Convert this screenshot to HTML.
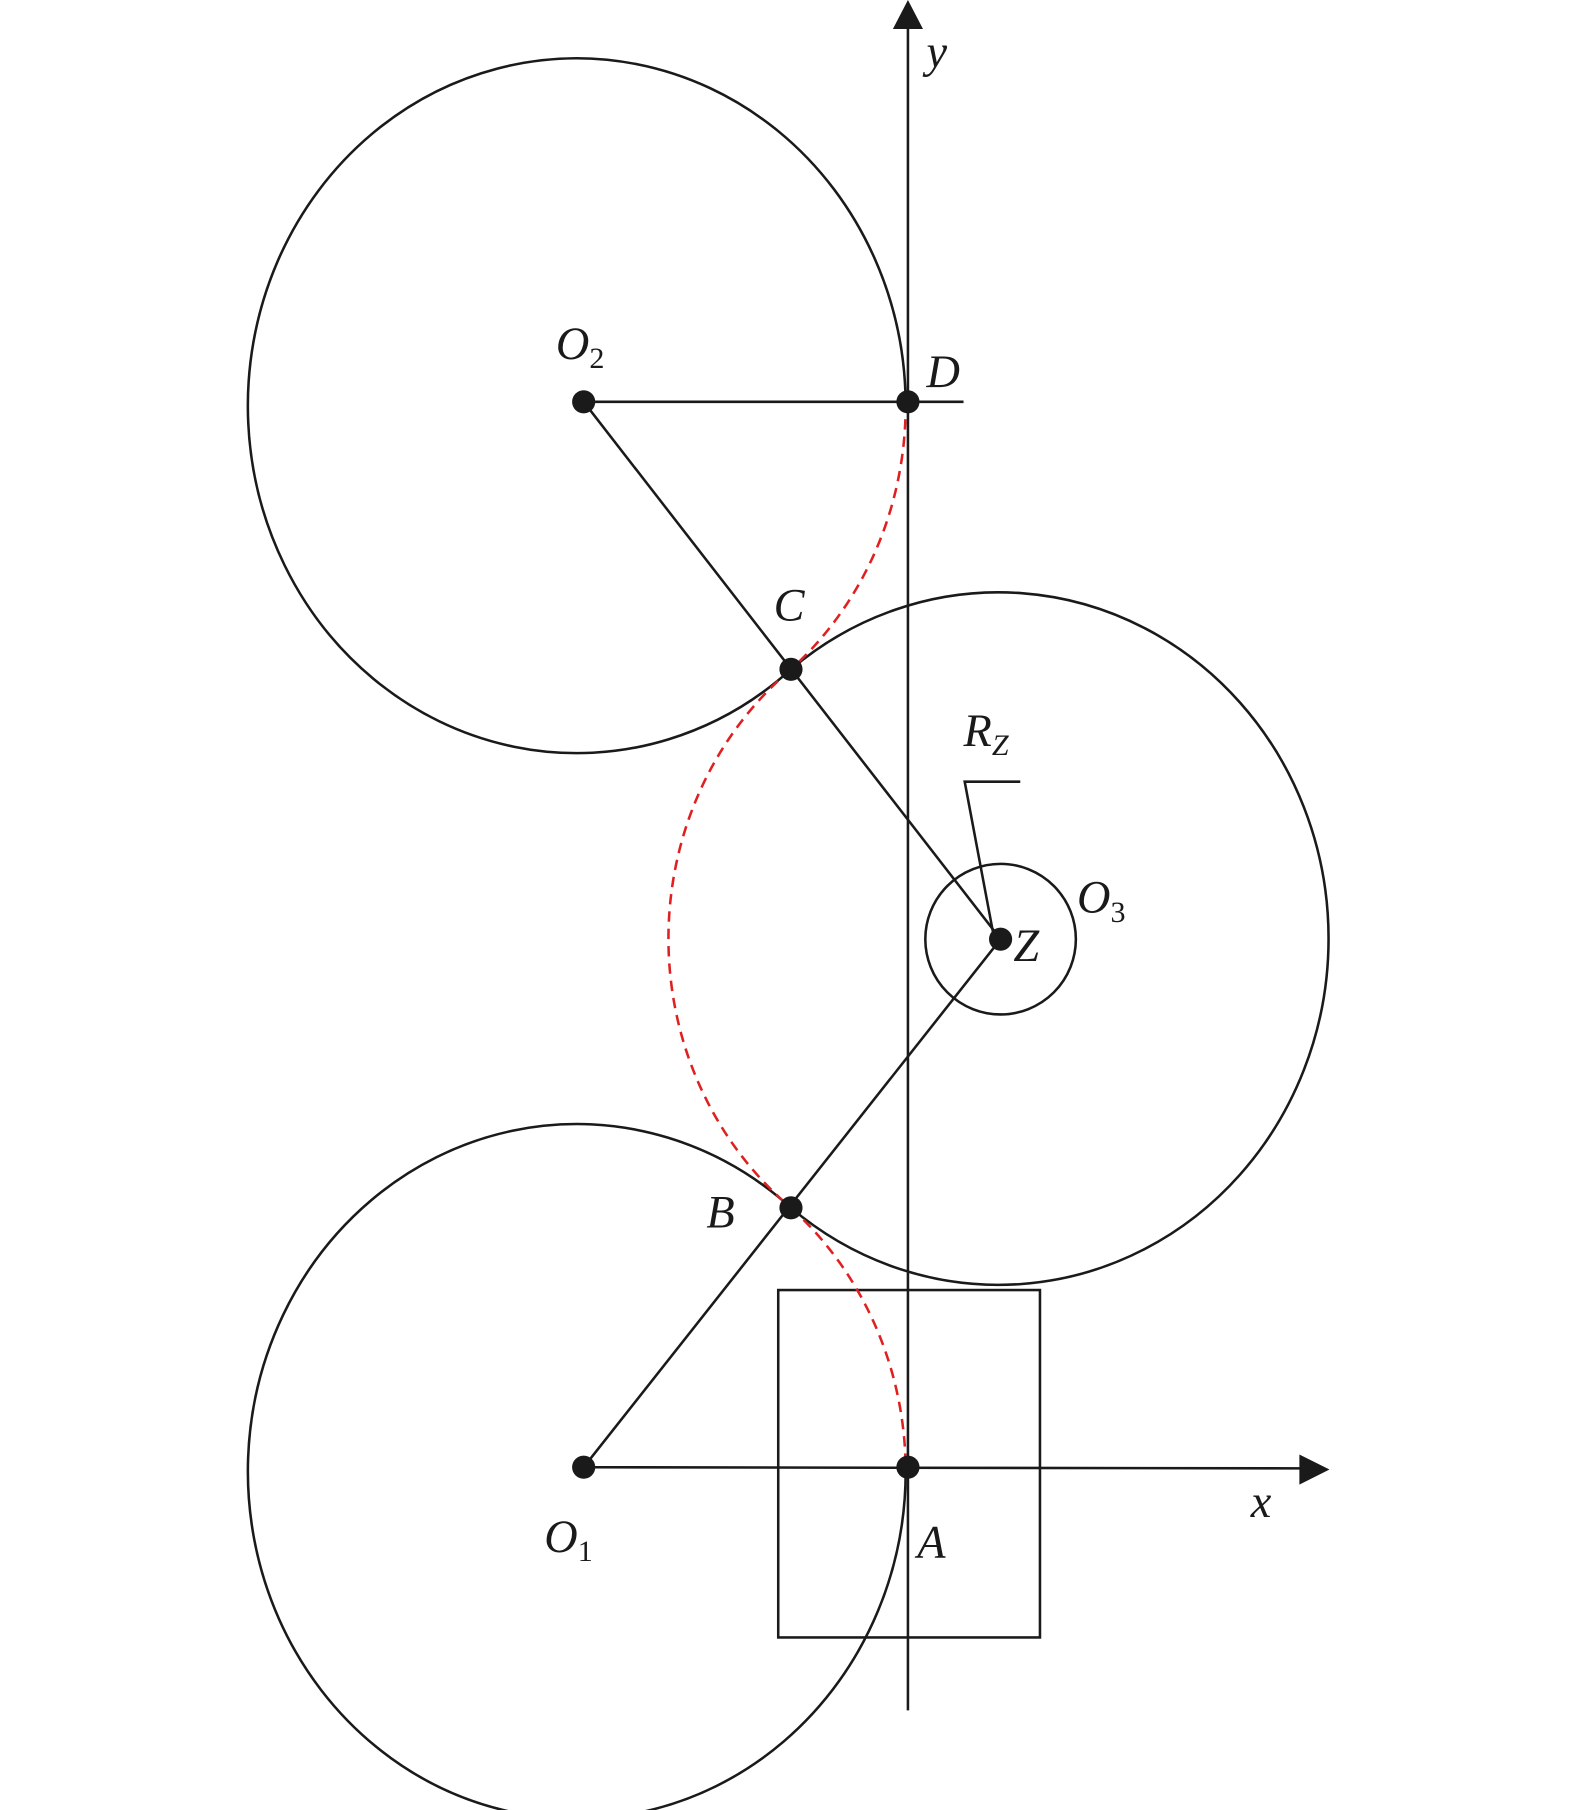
<!DOCTYPE html>
<html><head><meta charset="utf-8"><style>html,body{margin:0;padding:0;background:#fff}svg{display:block}</style></head>
<body>
<svg width="1575" height="1810" viewBox="0 0 1360 1563" preserveAspectRatio="none" xmlns="http://www.w3.org/2000/svg">
<g fill="none" stroke="#1a1a1a" stroke-width="2.2">
<line x1="784" y1="1477" x2="784" y2="22"/>
<line x1="505" y1="1267" x2="1125" y2="1268"/>
<path d="M782 347 A284 300 0 1 0 683 578"/>
<path d="M683 1043 A284 300 0 1 0 782 1266"/>
<path d="M683 578 A285 299 0 1 1 683 1043"/>
<circle cx="864" cy="811" r="65"/>
<line x1="504" y1="347" x2="832" y2="347"/>
<line x1="504" y1="347" x2="864" y2="811"/>
<line x1="504" y1="1267" x2="864" y2="811"/>
<polyline points="858,808 833,675 881,675"/>
<rect x="672" y="1114" width="226" height="300"/>
</g>
<g fill="none" stroke="#e02020" stroke-width="2.2" stroke-dasharray="9,6">
<path d="M782 347 A284 300 0 0 1 683 578"/>
<path d="M683 578 A285 299 0 0 0 683 1043"/>
<path d="M683 1043 A284 300 0 0 1 782 1266"/>
</g>
<g fill="#1a1a1a">
<polygon points="784,0 771,25 797,25"/>
<polygon points="1148,1269 1122,1256 1122,1282"/>
<circle cx="504" cy="347" r="10"/><circle cx="784" cy="347" r="10"/>
<circle cx="683" cy="578" r="10"/><circle cx="864" cy="811" r="10"/>
<circle cx="683" cy="1043" r="10"/><circle cx="504" cy="1267" r="10"/>
<circle cx="784" cy="1267" r="10"/>
</g>
<g font-family="Liberation Serif, serif" font-style="italic" font-size="40" fill="#1a1a1a">
<text x="800" y="58">y</text>
<text x="480" y="310">O<tspan font-style="normal" font-size="26" dy="8">2</tspan></text>
<text x="800" y="334">D</text>
<text x="668" y="536">C</text>
<text x="832" y="644">R<tspan font-size="26" dy="8">Z</tspan></text>
<text x="930" y="788">O<tspan font-style="normal" font-size="26" dy="8">3</tspan></text>
<text x="875" y="830">Z</text>
<text x="610" y="1060">B</text>
<text x="1080" y="1310">x</text>
<text x="470" y="1340">O<tspan font-style="normal" font-size="26" dy="8">1</tspan></text>
<text x="792" y="1345">A</text>
</g>
</svg>
</body></html>
